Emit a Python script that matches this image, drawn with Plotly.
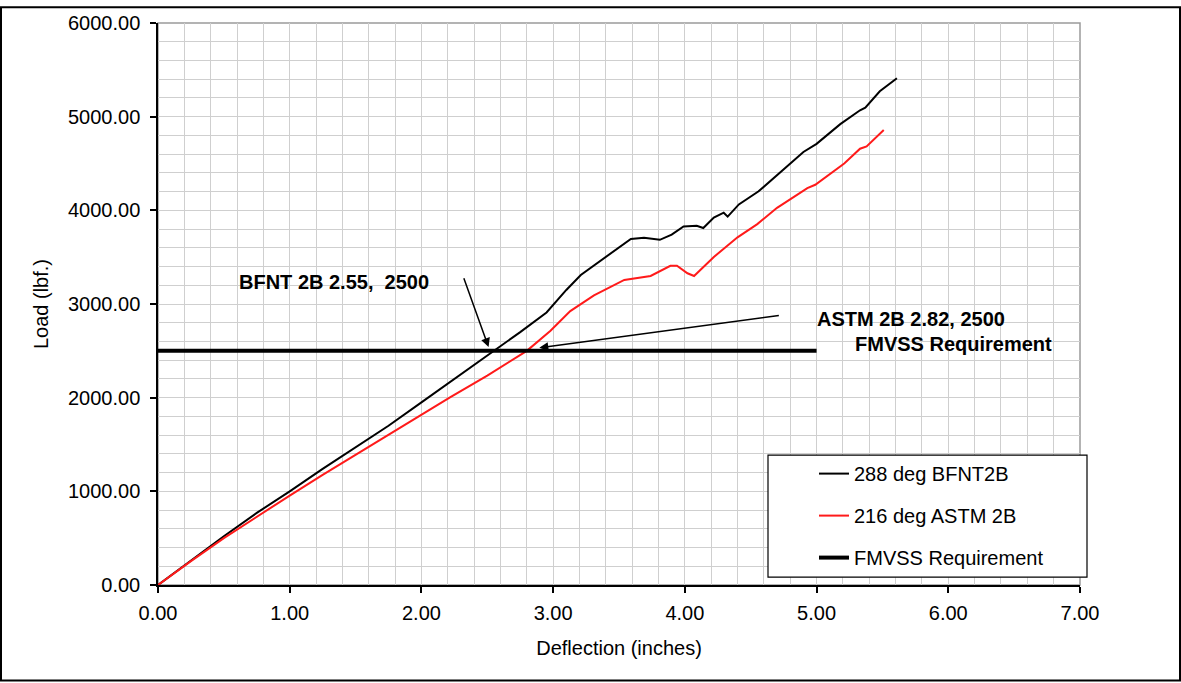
import plotly.graph_objects as go

# ---- data ----
bfnt_x = [0.00, 0.25, 0.50, 0.75, 1.00, 1.25, 1.50, 1.75, 2.00, 2.25, 2.55, 2.75, 2.95,
          3.10, 3.21, 3.33, 3.45, 3.59, 3.69, 3.81, 3.90, 3.99, 4.09, 4.14, 4.22, 4.295,
          4.325, 4.41, 4.56, 4.80, 4.90, 5.00, 5.18, 5.33, 5.37, 5.48, 5.61]
bfnt_y = [0, 260, 520, 770, 1000, 1240, 1470, 1700, 1950, 2200, 2500, 2700, 2910,
          3150, 3310, 3433, 3560, 3695, 3706, 3685, 3740, 3828, 3835, 3811, 3922, 3975,
          3933, 4063, 4203, 4500, 4623, 4710, 4920, 5068, 5096, 5271, 5411]

astm_x = [0.00, 0.25, 0.50, 0.75, 1.00, 1.25, 1.50, 1.75, 2.00, 2.22, 2.50, 2.65, 2.80,
          2.98, 3.13, 3.31, 3.54, 3.74, 3.89, 3.94, 4.02, 4.07, 4.22, 4.40, 4.55, 4.70,
          4.93, 4.99, 5.21, 5.33, 5.38, 5.51]
astm_y = [0, 255, 500, 730, 955, 1175, 1390, 1605, 1820, 2005, 2235, 2364, 2500,
          2714, 2924, 3092, 3257, 3299, 3408, 3408, 3328, 3299, 3502, 3712, 3853, 4027,
          4238, 4273, 4500, 4658, 4683, 4857]

req_x = [0.00, 5.00]
req_y = [2500, 2500]

series_names = ["288 deg BFNT2B", "216 deg ASTM 2B", "FMVSS Requirement"]
x_ticks = [0, 1, 2, 3, 4, 5, 6, 7]
y_ticks = [0, 1000, 2000, 3000, 4000, 5000, 6000]

# ---- layout geometry (pixels) ----
W, H = 1181, 683
L, R, T, B = 158, 1080, 14, 585
PW, PH = R - L, B - T


def px(xp):
    return (xp - L) / PW


def py(yp):
    return (B - yp) / PH


FONT = "Liberation Sans, Arial, sans-serif"
FS = 20

fig = go.Figure()
fig.add_trace(go.Scatter(x=bfnt_x, y=bfnt_y, mode="lines", name=series_names[0],
                         line=dict(color="black", width=2), legendgroup="a"))
fig.add_trace(go.Scatter(x=astm_x, y=astm_y, mode="lines", name=series_names[1],
                         line=dict(color="#ff1a1a", width=2), legendgroup="b"))
fig.add_trace(go.Scatter(x=req_x, y=req_y, mode="lines", name=series_names[2],
                         line=dict(color="black", width=4), legendgroup="c"))

axis_common = dict(
    showline=True, linecolor="black", linewidth=1.5,
    ticks="outside", ticklen=6, tickcolor="black", tickwidth=1.5,
    showgrid=True, gridcolor="#cfcfcf", gridwidth=1,
    zeroline=False, tickformat=".2f",
    tickfont=dict(family=FONT, size=FS, color="black"),
)

fig.update_layout(
    width=W, height=H,
    margin=dict(l=L, r=W - R, t=T, b=H - B),
    paper_bgcolor="white", plot_bgcolor="white",
    font=dict(family=FONT, size=FS, color="black"),
    xaxis=dict(range=[0, 7], tickvals=x_ticks, minor=dict(dtick=0.2, showgrid=True, gridcolor="#cfcfcf"),
               ticklabelstandoff=3,
               title=dict(text="Deflection (inches)", font=dict(family=FONT, size=FS), standoff=18),
               **axis_common),
    yaxis=dict(range=[0, 6000], tickvals=y_ticks, minor=dict(dtick=200, showgrid=True, gridcolor="#cfcfcf"),
               ticklabelstandoff=6,
               title=dict(text="Load (lbf.)", font=dict(family=FONT, size=FS), standoff=14),
               **axis_common),
    showlegend=True,
    legend=dict(x=px(814), y=py(452), xanchor="left", yanchor="top",
                bgcolor="rgba(0,0,0,0)", borderwidth=0,
                font=dict(family=FONT, size=FS, color="black"),
                traceorder="grouped", tracegroupgap=13),
)

# plot-area border (gray top/right) and legend box and outer frame
fig.add_shape(type="rect", xref="paper", yref="paper", x0=0, x1=1, y0=0, y1=1,
              line=dict(color="#9a9a9a", width=1.5), layer="between")
fig.add_shape(type="rect", xref="paper", yref="paper", x0=px(768), x1=px(1087), y0=py(577), y1=py(453),
              line=dict(color="black", width=1.2), fillcolor="white", layer="above")
fig.add_shape(type="rect", xref="paper", yref="paper", x0=px(1), x1=px(1180), y0=py(682), y1=py(-2),
              line=dict(color="black", width=2), layer="above")

# text annotations
bold = dict(family=FONT, size=20, color="black")
fig.add_annotation(text="<b>BFNT 2B 2.55,\u00a0 2500</b>", xref="paper", yref="paper",
                   x=px(237), y=py(277), xanchor="left", yanchor="middle", showarrow=False, font=bold)
fig.add_annotation(text="<b>ASTM 2B 2.82, 2500</b>", xref="paper", yref="paper",
                   x=px(815), y=py(315), xanchor="left", yanchor="middle", showarrow=False, font=bold)
fig.add_annotation(text="<b>FMVSS Requirement</b>", xref="paper", yref="paper",
                   x=px(853), y=py(340), xanchor="left", yanchor="middle", showarrow=False, font=bold)

# arrows
fig.add_annotation(text="", x=2.51, y=2540, ax=2.318, ay=3290, xref="x", yref="y", axref="x", ayref="y",
                   showarrow=True, arrowhead=2, arrowsize=1.2, arrowwidth=1.5, arrowcolor="black", standoff=0)
fig.add_annotation(text="", x=2.895, y=2532, ax=4.725, ay=2879, xref="x", yref="y", axref="x", ayref="y",
                   showarrow=True, arrowhead=2, arrowsize=1.2, arrowwidth=1.5, arrowcolor="black", standoff=0)

fig.write_html("out.html")
